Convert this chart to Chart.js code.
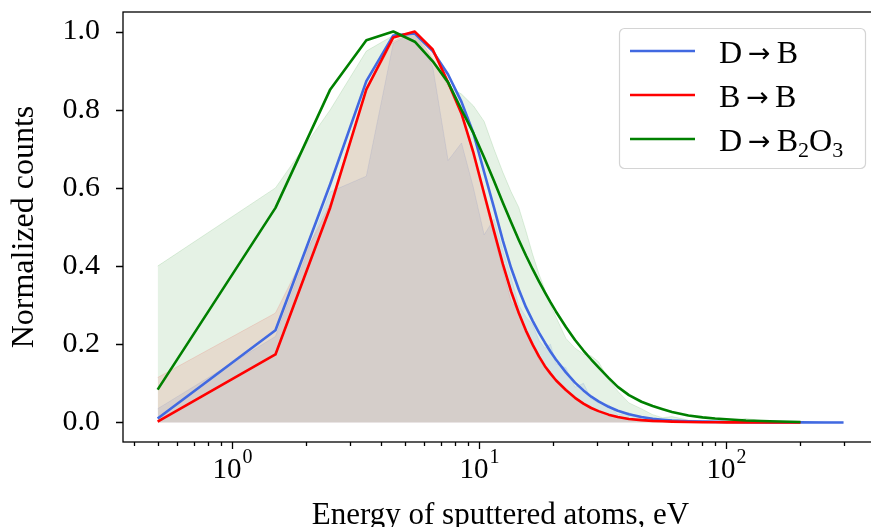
<!DOCTYPE html>
<html>
<head>
<meta charset="utf-8">
<script src="https://cdn.jsdelivr.net/npm/chart.js@4.4.0/dist/chart.umd.min.js"></script>
<style>
    html, body { margin: 0; padding: 0; background: #fff; overflow: hidden; }
    canvas { display: block; }
</style>
</head>
<body>
<canvas id="sputter_chart" width="880" height="527"></canvas>
<script>
// bin centres of the energy histogram, eV
const energies = [0.5, 1.5, 2.5, 3.5, 4.5, 5.5, 6.5, 7.5, 8.5, 9.5,
    10.5, 11.5, 12.5, 13.5, 14.5, 15.5, 16.5, 17.5, 18.5, 19.5,
    20.5, 22.5, 24.5, 26.5, 28.5, 30.5, 33.5, 36.5, 40.5, 45.5,
    50.5, 55.5, 60.5, 70.5, 80.5, 90.5, 100.5, 120.5, 150.5, 200.5,
    250.5, 299.5];

const seriesLabels = ['D → B', 'B → B', 'D → B₂O₃'];

// smoothed curves
const dbLine = [0.01, 0.236, 0.61, 0.873, 0.99, 0.995, 0.95, 0.89, 0.82, 0.74,
    0.64, 0.55, 0.465, 0.395, 0.34, 0.295, 0.26, 0.23, 0.204, 0.181,
    0.161, 0.128, 0.102, 0.082, 0.066, 0.054, 0.04, 0.03, 0.021, 0.014,
    0.0095, 0.007, 0.005, 0.003, 0.002, 0.0014, 0.001, 0.0006, 0.0003, 0.0001,
    0.0, 0.0];
const bbLine = [0.002, 0.174, 0.55, 0.852, 0.985, 1.0, 0.954, 0.87, 0.79, 0.69,
    0.585, 0.49, 0.405, 0.335, 0.28, 0.235, 0.199, 0.169, 0.144, 0.125,
    0.108, 0.083, 0.063, 0.048, 0.037, 0.029, 0.02, 0.014, 0.009, 0.006,
    0.004, 0.003, 0.002, 0.001, 0.0007, 0.0005, 0.0003, 0.0002, 0.0001, 0.0];
const dbo3Line = [0.084, 0.549, 0.852, 0.978, 1.0, 0.974, 0.924, 0.87, 0.80, 0.74,
    0.678, 0.618, 0.562, 0.512, 0.467, 0.427, 0.392, 0.361, 0.333, 0.307,
    0.284, 0.244, 0.211, 0.184, 0.161, 0.141, 0.114, 0.091, 0.07, 0.053,
    0.042, 0.034, 0.027, 0.018, 0.013, 0.01, 0.008, 0.005, 0.003, 0.001];

// raw (noisy) spectra, drawn as shaded areas
const dbBand = [0.035, 0.22, 0.59, 0.63, 0.97, 1.0, 0.91, 0.67, 0.715, 0.60,
    0.48, 0.52, 0.44, 0.37, 0.30, 0.27, 0.25, 0.21, 0.19, 0.20,
    0.15, 0.14, 0.09, 0.10, 0.06, 0.05, 0.045, 0.02, 0.025, 0.01,
    0.012, 0.006, 0.008, 0.003, 0.004, 0.002, 0.003, 0.002, 0.004, 0.001,
    0.003, 0.001];
const bbBand = [0.115, 0.28, 0.56, 0.85, 0.975, 1.0, 0.955, 0.87, 0.79, 0.68,
    0.575, 0.48, 0.39, 0.31, 0.285, 0.235, 0.2, 0.16, 0.14, 0.12,
    0.105, 0.08, 0.06, 0.045, 0.035, 0.028, 0.02, 0.014, 0.01, 0.006,
    0.004, 0.003, 0.002, 0.001, 0.001, 0, 0, 0, 0, 0];
const dbo3Band = [0.40, 0.60, 0.80, 0.95, 0.99, 1.0, 0.93, 0.86, 0.84, 0.81,
    0.77, 0.70, 0.64, 0.59, 0.55, 0.49, 0.43, 0.38, 0.34, 0.30,
    0.27, 0.215, 0.19, 0.175, 0.17, 0.155, 0.11, 0.08, 0.05, 0.035,
    0.02, 0.012, 0.015, 0.006, 0.004, 0.008, 0.003, 0.01, 0.002, 0.001];

const yTicks = [0, 0.2, 0.4, 0.6, 0.8, 1.0];
const xMajorTicks = [1, 10, 100];
const xTickExponents = ['0', '1', '2'];
const xAllTicks = [0.4, 0.5, 0.6, 0.7, 0.8, 0.9, 1, 2, 3, 4, 5, 6, 7, 8, 9,
    10, 20, 30, 40, 50, 60, 70, 80, 90, 100, 200, 300, 400];

const serif = '"Liberation Serif", "Times New Roman", serif';
const subDigits = { '₂': '2', '₃': '3' };

function toPoints(values) {
    return values.map((v, i) => ({ x: energies[i], y: v }));
}

function lineSet(label, values, color, order) {
    return {
        label: label,
        data: toPoints(values),
        borderColor: color,
        borderWidth: 2.6,
        borderJoinStyle: 'round',
        pointRadius: 0,
        fill: false,
        tension: 0,
        order: order
    };
}

function bandSet(values, rgb, order) {
    return {
        isBand: true,
        data: toPoints(values),
        borderColor: `rgba(${rgb}, 0.12)`,
        backgroundColor: `rgba(${rgb}, 0.1)`,
        borderWidth: 1,
        pointRadius: 0,
        fill: 'origin',
        tension: 0,
        order: order
    };
}

// frame, outward tick marks and 10^n labels like matplotlib
const axisFrame = {
    id: 'axisFrame',
    afterDraw(chart) {
        const { ctx, chartArea: a, scales: { x, y } } = chart;
        ctx.save();
        ctx.strokeStyle = '#000';
        ctx.lineWidth = 1.3;
        ctx.strokeRect(a.left, a.top, a.right - a.left, a.bottom - a.top);
        ctx.beginPath();
        yTicks.forEach(v => {
            const py = Math.round(y.getPixelForValue(v)) + 0.5;
            ctx.moveTo(a.left - 7, py);
            ctx.lineTo(a.left, py);
        });
        x.ticks.forEach(t => {
            const px = Math.round(x.getPixelForValue(t.value)) + 0.5;
            const len = xMajorTicks.includes(t.value) ? 7 : 4;
            ctx.moveTo(px, a.bottom);
            ctx.lineTo(px, a.bottom + len);
        });
        ctx.stroke();

        ctx.fillStyle = '#000';
        ctx.textBaseline = 'alphabetic';
        ctx.textAlign = 'left';
        xMajorTicks.forEach((v, i) => {
            const px = x.getPixelForValue(v);
            ctx.font = '29px ' + serif;
            const wBase = ctx.measureText('10').width;
            ctx.font = '20px ' + serif;
            const wExp = ctx.measureText(xTickExponents[i]).width;
            const x0 = px - (wBase + wExp) / 2;
            ctx.font = '29px ' + serif;
            ctx.fillText('10', x0, a.bottom + 36);
            ctx.font = '20px ' + serif;
            ctx.fillText(xTickExponents[i], x0 + wBase + 1, a.bottom + 21);
        });
        ctx.restore();
    }
};

// legend box in the upper right corner of the axes
function drawLabel(ctx, text, x, baseline) {
    let cx = x;
    for (const ch of text) {
        if (ch === ' ') {
            cx += 6;
        } else if (ch === '→') {
            ctx.font = '27px "DejaVu Sans"';
            ctx.fillText(ch, cx, baseline - 1);
            cx += ctx.measureText(ch).width;
        } else if (subDigits[ch]) {
            ctx.font = '22px ' + serif;
            ctx.fillText(subDigits[ch], cx, baseline + 6);
            cx += ctx.measureText(subDigits[ch]).width;
        } else {
            ctx.font = '32px ' + serif;
            ctx.fillText(ch, cx, baseline);
            cx += ctx.measureText(ch).width;
        }
    }
}

const boxLegend = {
    id: 'boxLegend',
    afterDraw(chart) {
        const ctx = chart.ctx;
        const items = chart.data.datasets.filter(d => !d.isBand);
        ctx.save();
        ctx.fillStyle = 'rgba(255, 255, 255, 0.85)';
        ctx.strokeStyle = '#d4d4d4';
        ctx.lineWidth = 1.2;
        ctx.beginPath();
        ctx.roundRect(619.5, 28.5, 246, 140, 5);
        ctx.fill();
        ctx.stroke();
        items.forEach((d, i) => {
            const ly = 51 + i * 44;
            ctx.strokeStyle = d.borderColor;
            ctx.lineWidth = d.borderWidth;
            ctx.beginPath();
            ctx.moveTo(630, ly);
            ctx.lineTo(695, ly);
            ctx.stroke();
            ctx.fillStyle = '#000';
            ctx.textBaseline = 'alphabetic';
            drawLabel(ctx, d.label, 719, ly + 12);
        });
        ctx.restore();
    }
};

const ctx = document.getElementById('sputter_chart').getContext('2d');

new Chart(ctx, {
    type: 'line',
    data: {
        datasets: [
            lineSet(seriesLabels[0], dbLine, 'royalblue', 3),
            lineSet(seriesLabels[1], bbLine, '#ff0000', 2),
            lineSet(seriesLabels[2], dbo3Line, 'green', 1),
            bandSet(dbBand, '65, 105, 225', 12),
            bandSet(bbBand, '255, 0, 0', 11),
            bandSet(dbo3Band, '0, 128, 0', 10)
        ]
    },
    options: {
        responsive: false,
        animation: false,
        devicePixelRatio: 1,
        layout: { padding: { top: 12, right: 2, left: 0, bottom: 0 } },
        scales: {
            x: {
                type: 'logarithmic',
                min: 0.362,
                max: 413,
                grid: { display: false },
                border: { display: false },
                afterBuildTicks: s => {
                    s.ticks = xAllTicks.map(v => ({ value: v }));
                },
                afterFit: s => {
                    s.height = 85;
                    s.paddingLeft = 0;
                    s.paddingRight = 0;
                },
                ticks: { display: false, autoSkip: false, maxRotation: 0 },
                title: {
                    display: true,
                    text: 'Energy of sputtered atoms, eV',
                    color: '#000',
                    font: { family: serif, size: 31, lineHeight: 0.72 },
                    padding: { top: 0, bottom: 0 }
                }
            },
            y: {
                min: -0.05,
                max: 1.05,
                grid: { display: false },
                border: { display: false },
                afterBuildTicks: s => {
                    s.ticks = yTicks.map(v => ({ value: v }));
                },
                afterFit: s => {
                    s.width = 123;
                    s.paddingTop = 0;
                    s.paddingBottom = 0;
                },
                ticks: {
                    padding: 15,
                    color: '#000',
                    font: { family: serif, size: 30 },
                    callback: v => v.toFixed(1)
                },
                title: {
                    display: true,
                    text: 'Normalized counts',
                    color: '#000',
                    font: { family: serif, size: 32, lineHeight: 1.1 },
                    padding: { top: 7, bottom: 0 }
                }
            }
        },
        plugins: {
            legend: { display: false },
            tooltip: { enabled: false }
        }
    },
    plugins: [axisFrame, boxLegend]
});
</script>
</body>
</html>
